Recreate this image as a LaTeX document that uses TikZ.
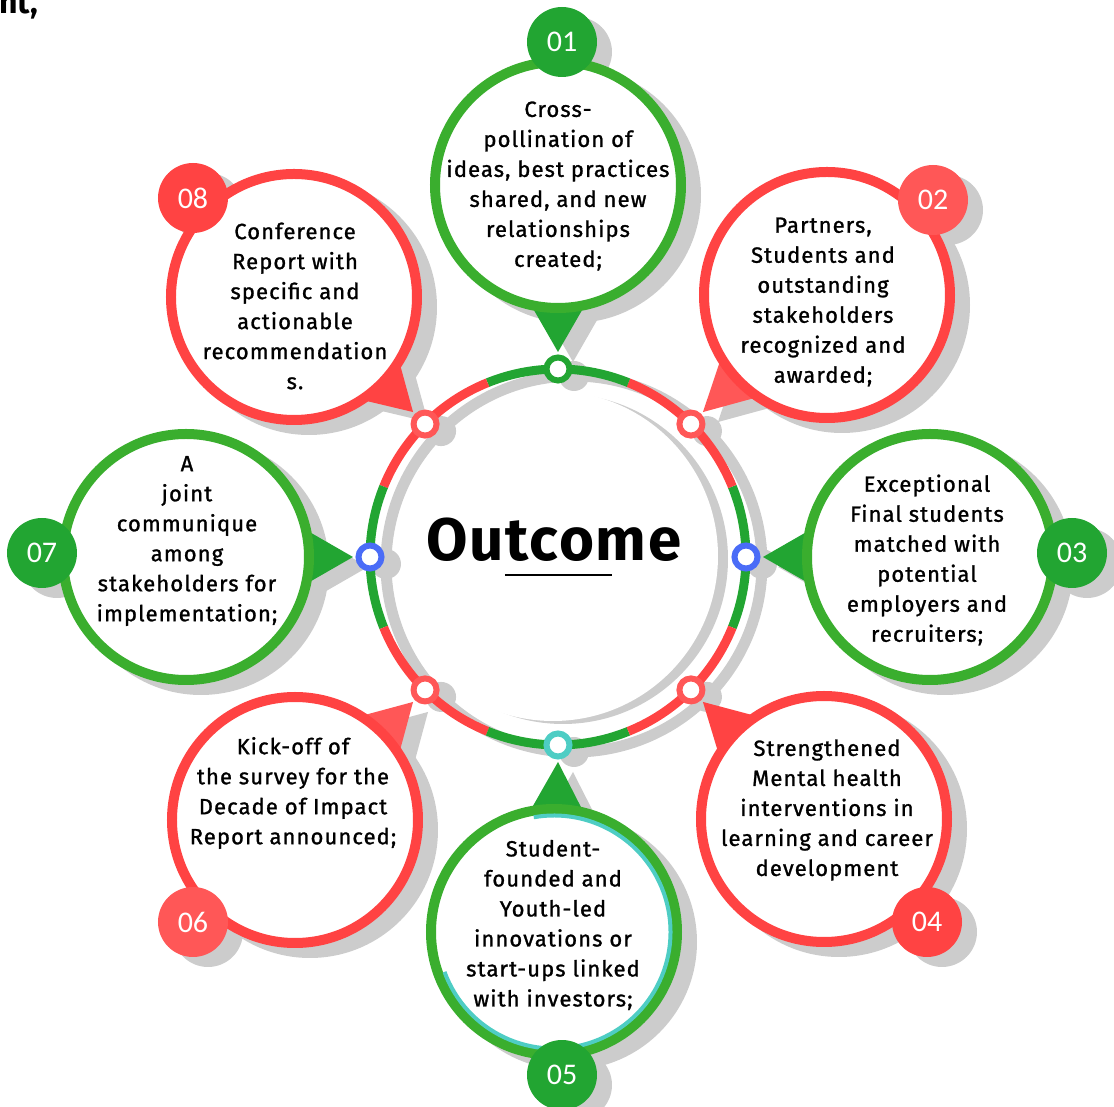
\documentclass[tikz,border=0pt]{standalone}
\usepackage{fontspec}
\setmainfont{Fira Sans}
\newfontfamily\txtfont[LetterSpace=5,FakeBold=1.2]{Fira Sans}
\newfontfamily\numfont{Carlito}
\newfontfamily\titlefont[LetterSpace=3]{Fira Sans}
\usetikzlibrary{calc}
\definecolor{gstroke}{HTML}{3AAE2E}
\definecolor{gfill}{HTML}{22A532}
\definecolor{rstroke}{HTML}{FF4343}
\definecolor{rlight}{HTML}{FF5757}
\definecolor{shadowgray}{HTML}{CCCCCC}
\definecolor{bluedot}{HTML}{4A6CF7}
\definecolor{cyandot}{HTML}{4ECDC4}
\tikzset{
  satcircle/.style={circle, fill=white, line width=10pt, minimum size=246pt, inner sep=0pt},
  badge/.style={circle, minimum size=70pt, inner sep=0pt, text=white, font=\numfont\fontsize{30}{30}\selectfont},
  ringdot/.style={circle, fill=white, line width=6pt, minimum size=23pt, inner sep=0pt},
  sattext/.style={align=center, font=\txtfont\fontsize{22}{30}\selectfont, inner sep=0pt},
  ringseg/.style={line width=9pt}
}
\begin{document}
\begin{tikzpicture}[x=1pt,y=1pt]
\useasboundingbox (-558,-550) rectangle (556,557);
% centres of satellites
\coordinate (c1) at (0,372);
\coordinate (c2) at (269,262);
\coordinate (c3) at (372,0);
\coordinate (c4) at (266,-262);
\coordinate (c5) at (-4,-375);
\coordinate (c6) at (-263,-263);
\coordinate (c7) at (-372,0);
\coordinate (c8) at (-264,260);
% badges
\coordinate (b1) at (4,515);
\coordinate (b2) at (375,357);
\coordinate (b3) at (514,4);
\coordinate (b4) at (369,-365);
\coordinate (b5) at (4,-518);
\coordinate (b6) at (-365,-365);
\coordinate (b7) at (-516,4);
\coordinate (b8) at (-365,359);
% pointer tips
\coordinate (p1) at (90:205);
\coordinate (p2) at (45:205);
\coordinate (p3) at (0:205);
\coordinate (p4) at (-45:205);
\coordinate (p5) at (-90:205);
\coordinate (p6) at (-135:205);
\coordinate (p7) at (180:205);
\coordinate (p8) at (135:205);
\foreach \i in {1,...,8}{
  \coordinate (pb\i) at ($(c\i)!120pt!(p\i)$);
  \coordinate (pl\i) at ($(pb\i)!27pt!90:(p\i)$);
  \coordinate (pr\i) at ($(pb\i)!27pt!-90:(p\i)$);
}
% central disc with crescent
\fill[shadowgray] (5,-2) circle (165);
\fill[white] (-5,1) circle (165);
% ring shadow
\draw[shadowgray, line width=11pt] (16,-7) circle (188);
\foreach \a in {90,45,0,-45,-90,-135,180,135}
  \fill[shadowgray] ($(\a:188)+(16,-7)$) circle (15);
% satellite shadows
\foreach \i in {1,...,8}{
  \fill[shadowgray] ($(c\i)+(15,-10)$) circle (128);
  \fill[shadowgray] ($(b\i)+(15,-10)$) circle (35);
  \fill[shadowgray] ($(p\i)+(15,-10)$) -- ($(pl\i)+(15,-10)$) -- ($(pr\i)+(15,-10)$) -- cycle;
}
% ring
\foreach \a in {0,90,180,270}{
  \draw[ringseg, gfill] (\a-22:188) arc[start angle=\a-22, end angle=\a+22, radius=188];
  \draw[ringseg, rstroke] (\a+22:188) arc[start angle=\a+22, end angle=\a+68, radius=188];
}
% ring dots
\node[ringdot, draw=gfill] (d1) at (90:188) {};
\node[ringdot, draw=rlight] (d2) at (45:188) {};
\node[ringdot, draw=bluedot] (d3) at (0:188) {};
\node[ringdot, draw=rlight] (d4) at (-45:188) {};
\node[ringdot, draw=cyandot] (d5) at (-90:188) {};
\node[ringdot, draw=rlight] (d6) at (-135:188) {};
\node[ringdot, draw=bluedot] (d7) at (180:188) {};
\node[ringdot, draw=rlight] (d8) at (135:188) {};
% pointers and satellite circles
\foreach \i/\sc/\ac in {1/gstroke/gfill, 2/rstroke/rlight, 3/gstroke/gfill, 4/rstroke/rstroke,
                        5/gstroke/gfill, 6/rstroke/rlight, 7/gstroke/gfill, 8/rstroke/rstroke}{
  \fill[\ac] (p\i) -- (pl\i) -- (pr\i) -- cycle;
  \node[satcircle, draw=\sc] (s\i) at (c\i) {};
}
\draw[cyandot, line width=4pt] ($(c5)+(200:116.5)$) arc[start angle=200, end angle=460, radius=116.5];
% texts
\node[sattext] (t1) at (0,371) {Cross-\\pollination of\\ideas, best practices\\shared, and new\\relationships\\created;};
\node[sattext] (t2) at (265,255) {Partners,\\Students and\\outstanding\\stakeholders\\recognized and\\awarded;};
\node[sattext] (t3) at (369,-3) {Exceptional\\Final students\\matched with\\potential\\employers and\\recruiters;};
\node[sattext] (t4) at (269,-253) {Strengthened\\Mental health\\interventions in\\learning and career\\development};
\node[sattext] (t5) at (-5,-368) {Student-\\founded and\\Youth-led\\innovations or\\start-ups linked\\with investors;};
\node[sattext] (t6) at (-265,-236) {Kick-off of\\the survey for the\\Decade of Impact\\Report announced;};
\node[sattext] (t7) at (-371,16) {A\\joint\\communique\\among\\stakeholders for\\implementation;};
\node[sattext] (t8) at (-263,251) {Conference\\Report with\\specific and\\actionable\\recommendation\\s.};
% badges
\node[badge, fill=gfill] (n1) at (b1) {01};
\node[badge, fill=rlight] (n2) at (b2) {02};
\node[badge, fill=gfill] (n3) at (b3) {03};
\node[badge, fill=rstroke] (n4) at (b4) {04};
\node[badge, fill=gfill] (n5) at (b5) {05};
\node[badge, fill=rlight] (n6) at (b6) {06};
\node[badge, fill=gfill] (n7) at (b7) {07};
\node[badge, fill=rstroke] (n8) at (b8) {08};
% centre title
\node[font=\titlefont\bfseries\fontsize{60}{60}\selectfont, inner sep=0pt] (outc) at (-4,17) {Outcome};
\draw[line width=1.5pt] (-53,-18) -- (54,-18);
% clipped heading fragment
\node[anchor=base west, inner sep=0pt, font=\bfseries\fontsize{32}{32}\selectfont] (frag) at (-559,543) {nt,};
\end{tikzpicture}
\end{document}
